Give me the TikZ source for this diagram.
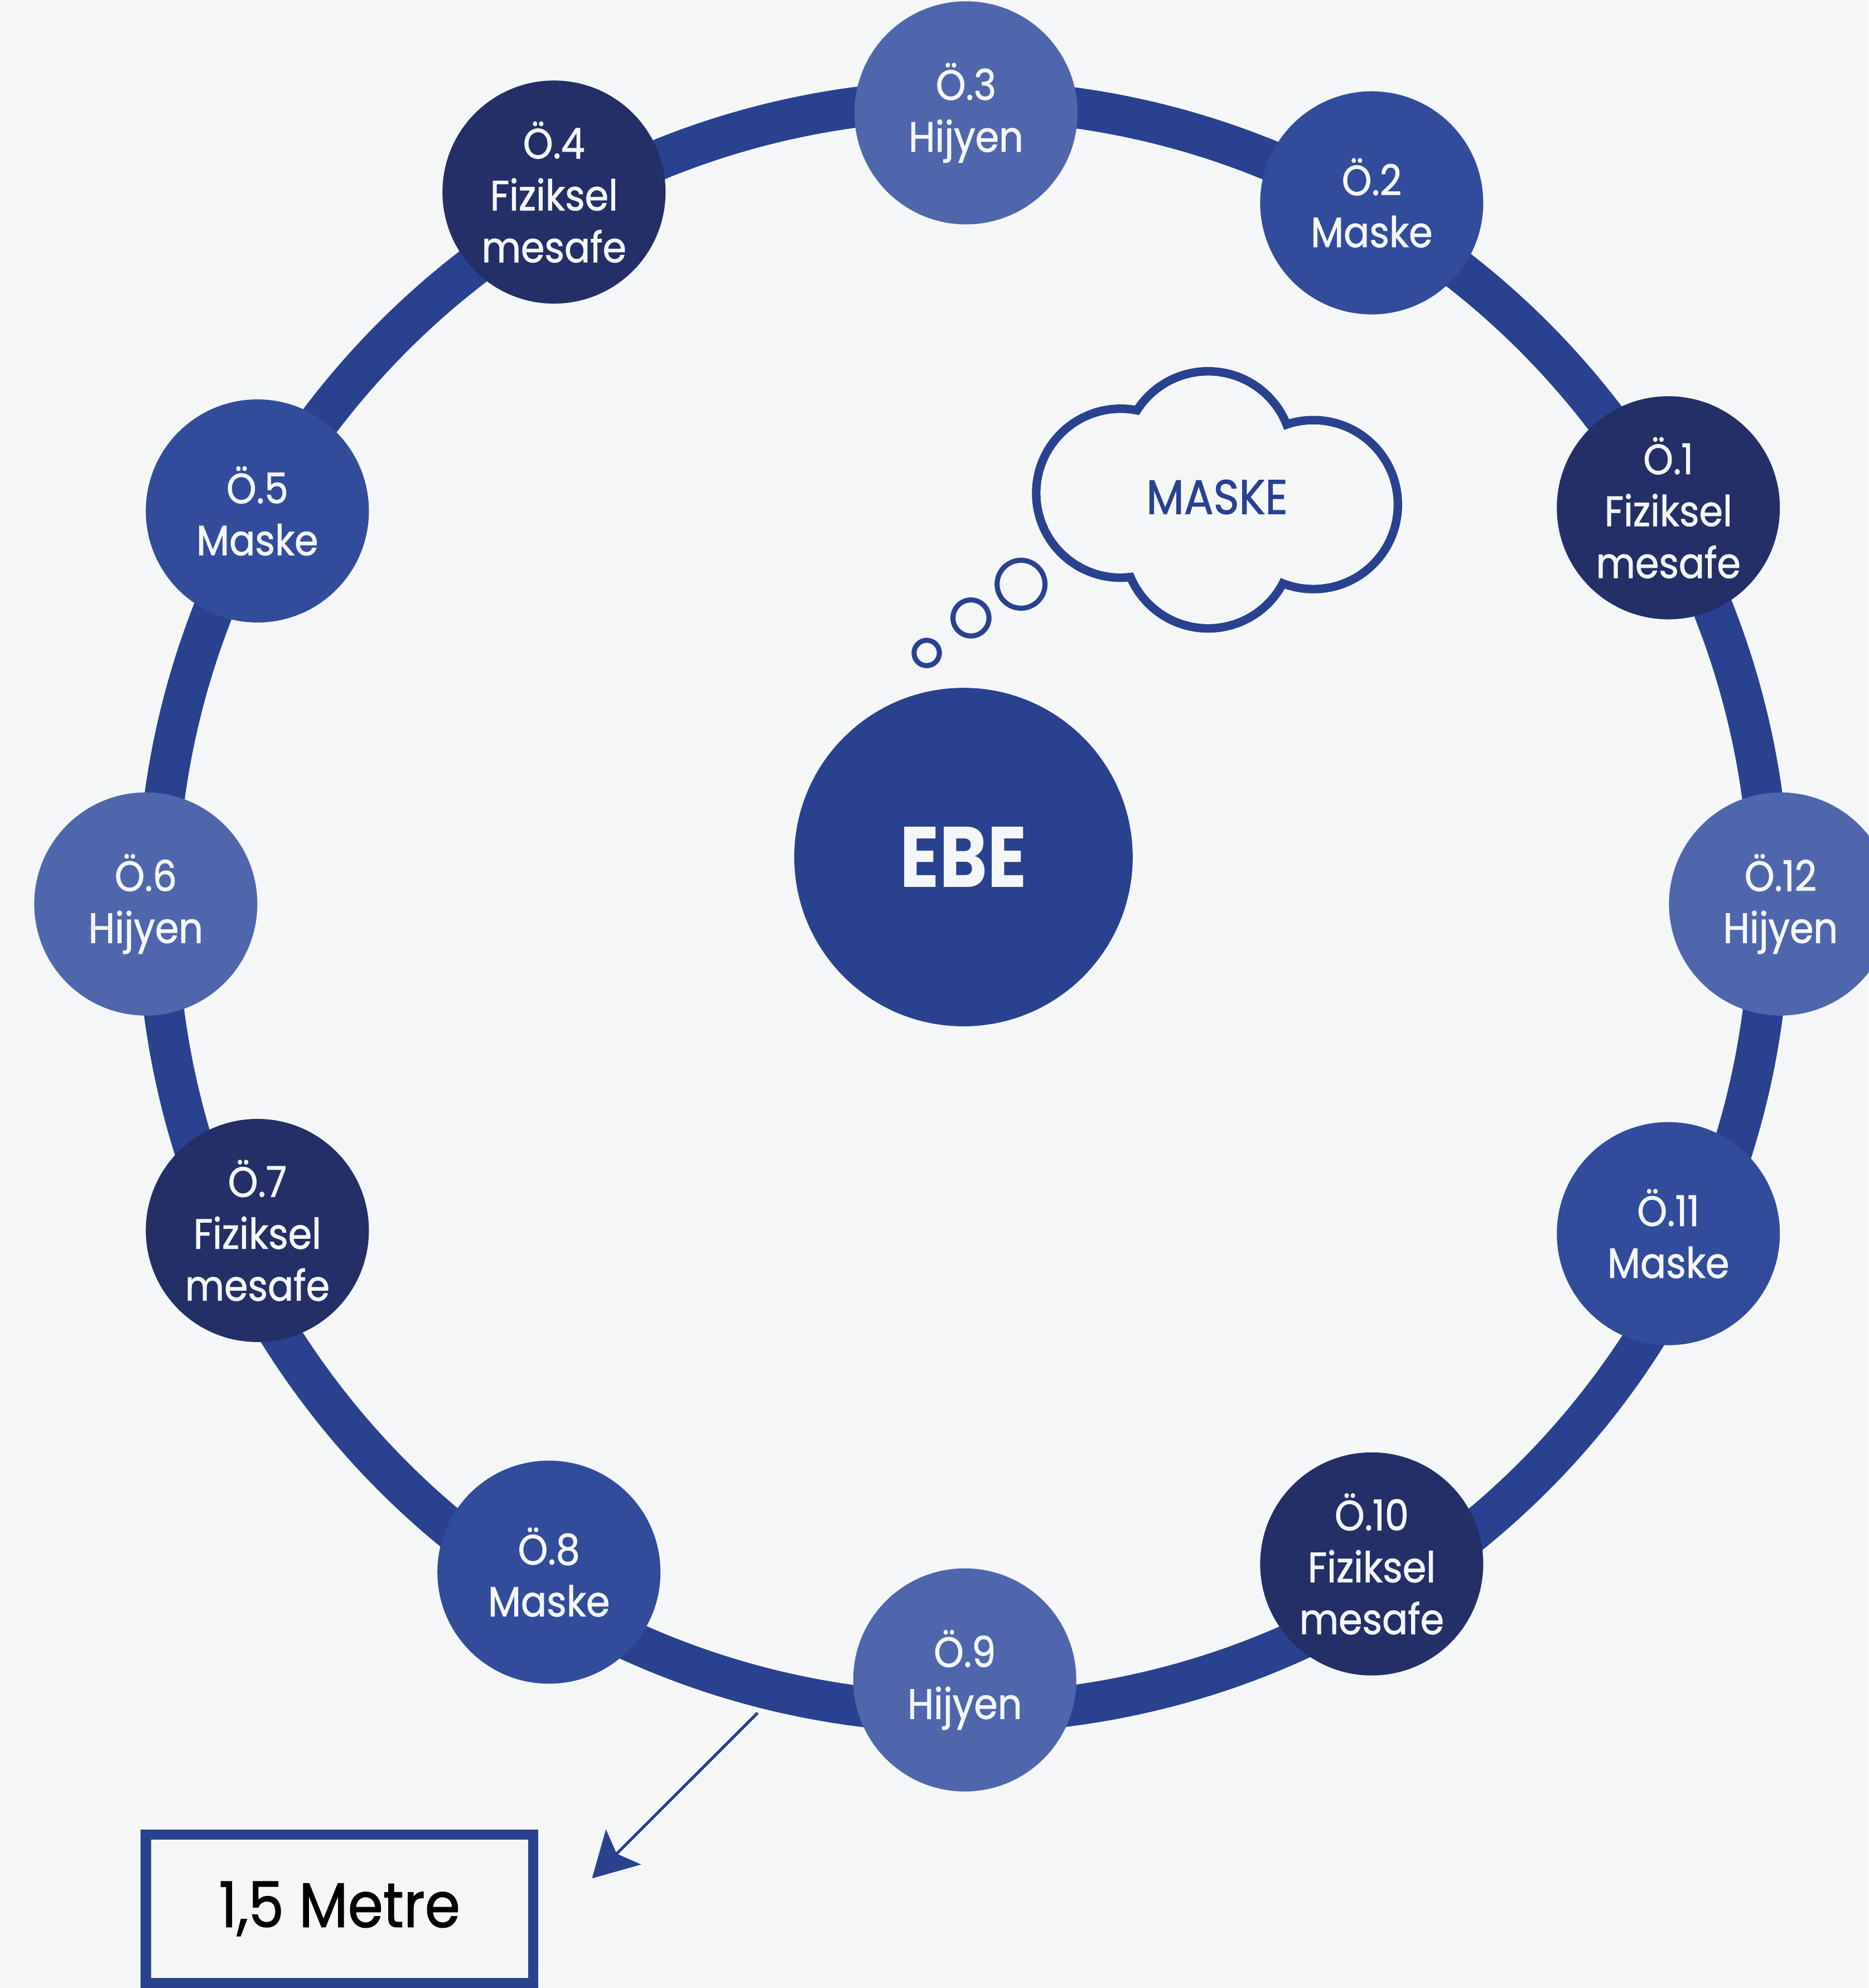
\documentclass[tikz,border=0pt]{standalone}
\usepackage{fontspec}
\setmainfont[FakeStretch=0.9, FakeBold=1.2]{Poppins}
\newfontfamily\ebefont[FakeStretch=0.85]{Poppins}
\usetikzlibrary{arrows.meta}

\definecolor{pagebg}{HTML}{F4F6F8}
\definecolor{ringblue}{HTML}{2A4190}
\definecolor{hijyenblue}{HTML}{5066AC}
\definecolor{maskeblue}{HTML}{324C9B}
\definecolor{mesafeblue}{HTML}{232F66}
\definecolor{ogrtext}{HTML}{F4F6F8}

\tikzset{
  ogr/.style={circle, minimum size=3.52cm, inner sep=0pt, text=ogrtext, align=center,
    font=\fontsize{19}{23.3}\selectfont},
  hijyen/.style={ogr, fill=hijyenblue},
  maske/.style={ogr, fill=maskeblue},
  mesafe/.style={ogr, fill=mesafeblue, yshift=0.05cm},
  bulut/.style={ringblue, line width=0.136cm},
  kabarcik/.style={draw=ringblue, line width=0.08cm, fill=pagebg},
}

\begin{document}
\begin{tikzpicture}[x=0.02cm, y=-0.02cm]
\useasboundingbox (0,0) rectangle (1474,1568);
\fill[pagebg] (0,0) rectangle (1474,1568);
\draw[ringblue, line width=0.64cm] (760,715) circle[radius=636];

\node[mesafe] (o1) at (1316,403) {Ö.1\\Fiziksel\\mesafe};
\node[maske] (o2) at (1082,160) {Ö.2\\Maske};
\node[hijyen] (o3) at (762,89) {Ö.3\\Hijyen};
\node[mesafe] (o4) at (437,154) {Ö.4\\Fiziksel\\mesafe};
\node[maske] (o5) at (203,403) {Ö.5\\Maske};
\node[hijyen] (o6) at (115,713) {Ö.6\\Hijyen};
\node[mesafe] (o7) at (203,973) {Ö.7\\Fiziksel\\mesafe};
\node[maske] (o8) at (433,1240) {Ö.8\\Maske};
\node[hijyen] (o9) at (761,1325) {Ö.9\\Hijyen};
\node[mesafe] (o10) at (1082,1236) {Ö.10\\Fiziksel\\mesafe};
\node[maske] (o11) at (1316,973) {Ö.11\\Maske};
\node[hijyen] (o12) at (1404.5,713) {Ö.12\\Hijyen};

\node[circle, fill=ringblue, minimum size=5.34cm, text=ogrtext,
  font=\ebefont\bfseries\fontsize{38.5}{40}\selectfont] (ebe) at (760,676) {EBE};

% thought cloud
\foreach \p in {(884,389),(953,359.5),(1036,398),(953,429)}
  \draw[bulut] \p circle[radius=66.6];
\foreach \p in {(884,389),(953,359.5),(1036,398),(953,429)}
  \fill[pagebg] \p circle[radius=63.2];
\node[text=ringblue, font=\fontsize{21.8}{24}\selectfont] (dusunce) at (960,392) {MASKE};
\draw[kabarcik] (805.4,460.8) circle[radius=18.9];
\draw[kabarcik] (765.9,487.4) circle[radius=14.2];
\draw[kabarcik] (731,515) circle[radius=10];

\node[draw=ringblue, line width=0.16cm, minimum width=6.11cm, minimum height=2.34cm,
  text=black, font=\fontsize{28.3}{30}\selectfont] (metre) at (267.8,1505.5) {1,5 Metre};
\coordinate (halka) at (597.6,1351);
\coordinate (uc) at (467,1481.5);
\draw[ringblue, line width=0.046cm, -{Stealth[length=0.7cm, width=0.78cm, inset=0.15cm]}] (halka) -- (uc);
\end{tikzpicture}
\end{document}
